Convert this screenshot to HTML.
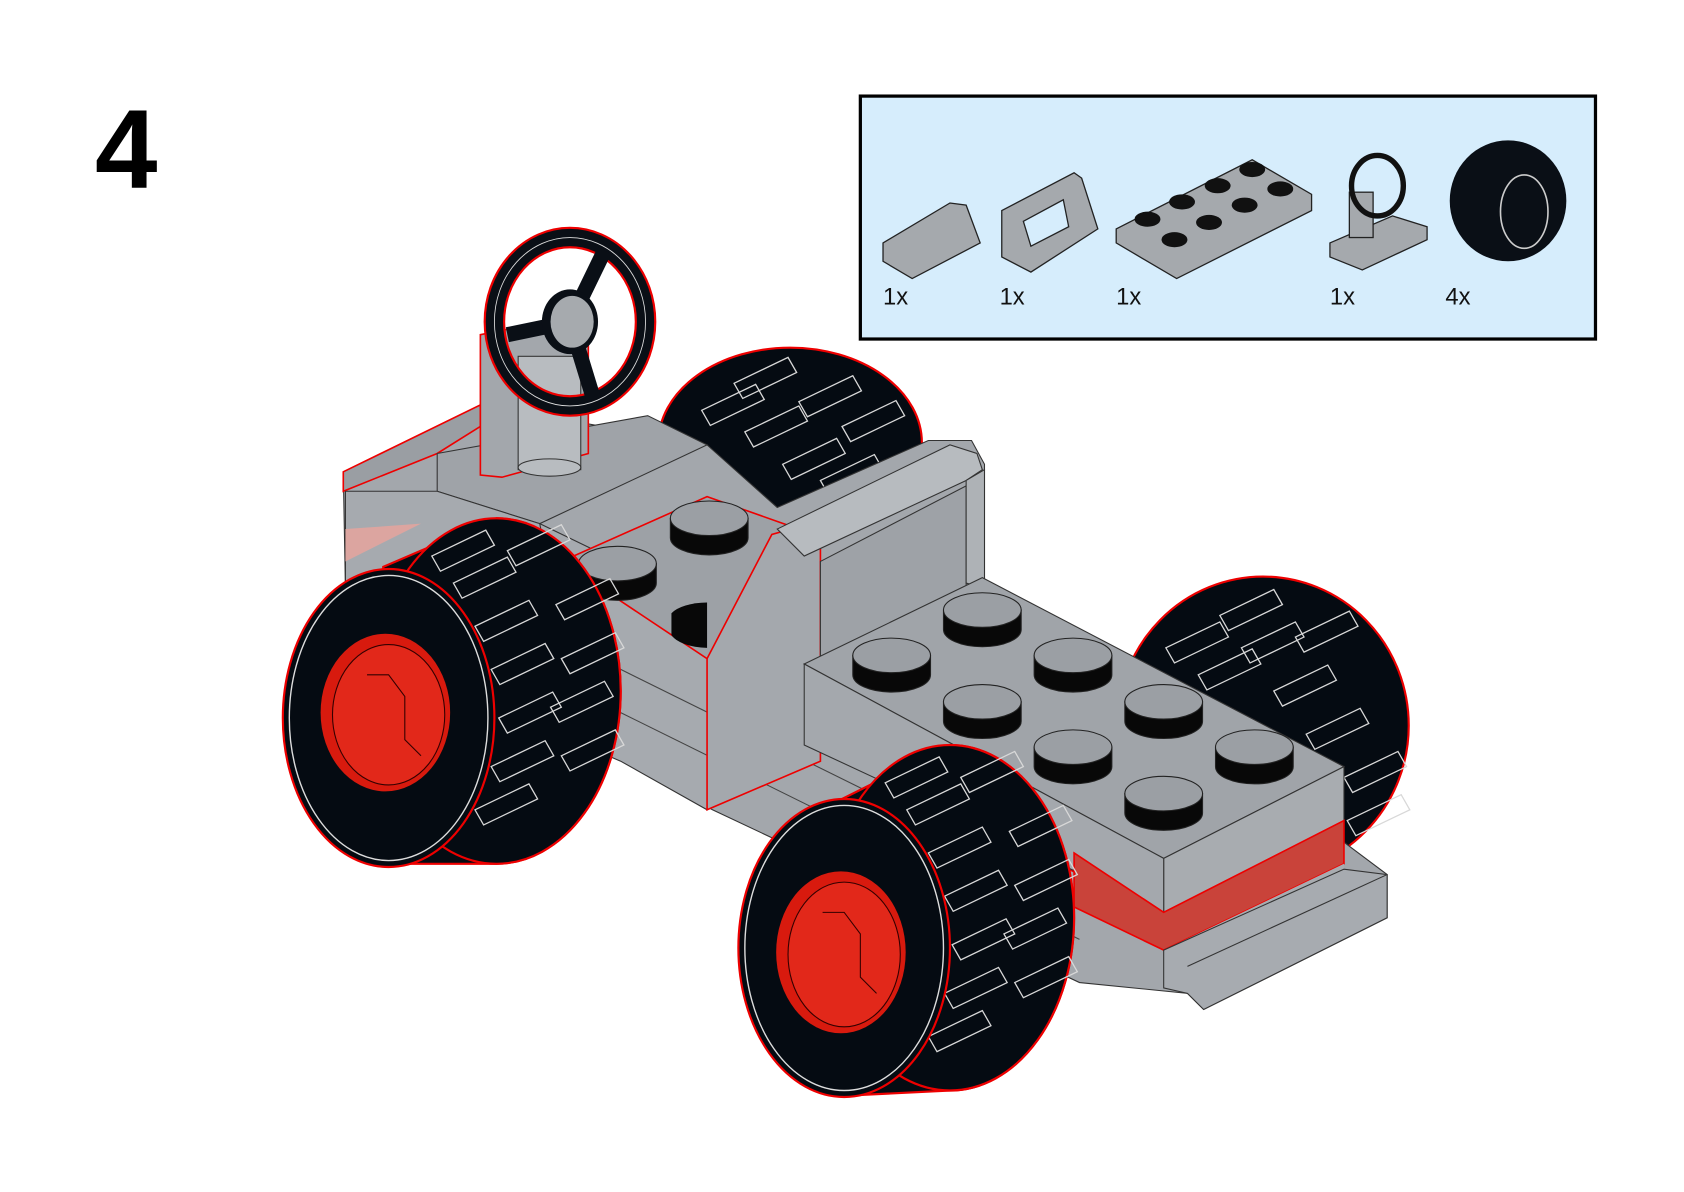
<!DOCTYPE html>
<html><head><meta charset="utf-8"><style>
html,body{margin:0;padding:0;background:#fff;width:1684px;height:1192px;overflow:hidden}
svg{display:block}
</style></head><body>
<svg width="1684" height="1192" viewBox="0 0 1560 1104" preserveAspectRatio="none" xmlns="http://www.w3.org/2000/svg">
<defs>
<g id="tread" stroke="#d8d8d8" stroke-width="1.2" fill="none">
<path d="M0,0 l50,-24 l8,14 l-50,24 z"/>
</g>
</defs>
<rect width="1560" height="1104" fill="#fff"/>
<text x="88" y="174" font-family="Liberation Sans, sans-serif" font-weight="bold" font-size="104">4</text>

<!-- parts box -->
<rect x="797" y="89" width="681" height="225" fill="#d6edfc" stroke="#000" stroke-width="3"/>
<g font-family="Liberation Sans, sans-serif" font-size="22" fill="#111">
<text x="818" y="282">1x</text><text x="926" y="282">1x</text><text x="1034" y="282">1x</text><text x="1232" y="282">1x</text><text x="1339" y="282">4x</text>
</g>
<g stroke="#222" stroke-width="1.2" fill="#a5a9ad">
<polygon points="818,225 880,188 895,190 908,225 845,258 818,242"/>
<polygon points="928,195 995,160 1002,165 1017,212 955,252 928,238"/>
<polygon points="948,205 985,185 990,210 955,228" fill="#d6edfc"/>
<polygon points="1034,212 1160,148 1215,180 1215,195 1090,258 1034,225"/>
<polygon points="1232,225 1290,200 1322,210 1322,222 1262,250 1232,238"/>
<rect x="1250" y="178" width="22" height="42"/>
</g>
<g fill="#111"><ellipse cx="1063" cy="203" rx="12" ry="7"/><ellipse cx="1095" cy="187" rx="12" ry="7"/><ellipse cx="1128" cy="172" rx="12" ry="7"/><ellipse cx="1160" cy="157" rx="12" ry="7"/><ellipse cx="1088" cy="222" rx="12" ry="7"/><ellipse cx="1120" cy="206" rx="12" ry="7"/><ellipse cx="1153" cy="190" rx="12" ry="7"/><ellipse cx="1186" cy="175" rx="12" ry="7"/></g>
<ellipse cx="1276" cy="172" rx="24" ry="28" fill="none" stroke="#111" stroke-width="5"/>
<ellipse cx="1397" cy="186" rx="54" ry="56" fill="#0a0f16"/>
<ellipse cx="1412" cy="196" rx="22" ry="34" fill="none" stroke="#ccc" stroke-width="1.5"/>

<!-- back right wheel -->
<ellipse cx="732" cy="410" rx="122" ry="88" fill="#050b12" stroke="#e00" stroke-width="2"/>
<!-- front right wheel -->
<ellipse cx="1170" cy="672" rx="135" ry="138" fill="#050b12" stroke="#e00" stroke-width="2"/>
<g>
<use href="#tread" x="650" y="380"/><use href="#tread" x="690" y="400"/><use href="#tread" x="725" y="430"/><use href="#tread" x="760" y="445"/><use href="#tread" x="680" y="355"/><use href="#tread" x="740" y="372"/><use href="#tread" x="780" y="395"/>
<use href="#tread" x="1080" y="600"/><use href="#tread" x="1110" y="625"/><use href="#tread" x="1150" y="600"/><use href="#tread" x="1180" y="640"/><use href="#tread" x="1210" y="680"/><use href="#tread" x="1245" y="720"/><use href="#tread" x="1248" y="760"/><use href="#tread" x="1130" y="570"/><use href="#tread" x="1200" y="590"/>
</g>

<!-- body silhouette -->
<polygon points="318,437 445,375 655,412 720,470 860,408 900,408 912,430 912,540 1245,710 1245,780 1285,810 1285,850 1115,935 1100,920 1000,910 660,750 575,700 320,545" fill="#a3a7ac" stroke="#333" stroke-width="1"/>
<polygon points="318,437 445,375 445,395 405,420 318,455" fill="#9a9ea3" stroke="#e00" stroke-width="1.5"/>
<polygon points="405,420 600,385 655,412 500,485 405,455" fill="#9fa3a8" stroke="#333" stroke-width="1"/>
<polygon points="320,455 405,455 500,485 520,520 320,540" fill="#a6aaaf" stroke="#333" stroke-width="1"/>
<polygon points="320,490 390,485 320,520" fill="#dca5a0"/>
<polygon points="500,485 655,560 655,750 575,705 540,690" fill="#a6aaaf" stroke="#333" stroke-width="1"/>
<line x1="575" y1="620" x2="1000" y2="830" stroke="#444" stroke-width="1"/>
<line x1="575" y1="660" x2="1000" y2="870" stroke="#444" stroke-width="1"/>
<polyline points="655,640 1000,810" stroke="#e00" stroke-width="1.5" fill="none"/>
<polygon points="520,520 655,460 740,490 655,610" fill="#9da1a6" stroke="#e00" stroke-width="1.5"/>
<!-- seat -->
<polygon points="655,610 715,495 740,488 760,505 760,705 655,750" fill="#a4a8ad" stroke="#e00" stroke-width="1.5"/>
<polygon points="720,490 880,412 905,420 910,435 895,445 745,515" fill="#b7bbbf" stroke="#333" stroke-width="1"/>
<polygon points="760,520 895,450 895,545 760,610" fill="#9ea2a7" stroke="#333" stroke-width="1"/>
<polygon points="895,445 912,435 912,545 895,540" fill="#aeb2b6" stroke="#333" stroke-width="1"/>
<!-- front plate -->
<polygon points="745,615 910,535 1245,710 1078,795" fill="#a0a4a9" stroke="#333" stroke-width="1"/>
<polygon points="1078,795 1245,710 1245,760 1078,845" fill="#a8acb0" stroke="#333" stroke-width="1"/>
<polygon points="745,615 1078,795 1078,845 745,690" fill="#a4a8ad" stroke="#333" stroke-width="1"/>
<polygon points="995,790 1078,845 1245,760 1245,800 1078,880 995,840" fill="#c9433a" stroke="#e00" stroke-width="1.5"/>
<polygon points="1078,880 1245,800 1245,810 1078,892" fill="#a8acb0"/>
<polygon points="1078,880 1245,805 1285,810 1285,850 1115,935 1100,920 1078,915" fill="#a7abb0" stroke="#333" stroke-width="1"/>
<line x1="1100" y1="895" x2="1285" y2="810" stroke="#333"/>

<!-- studs -->
<g stroke="#222" stroke-width="1">
<g transform="translate(572,522)"><path d="M-36,0 v18 a36,16 0 0 0 72,0 v-18z" fill="#080808"/><ellipse rx="36" ry="16" fill="#9b9fa4"/></g>
<g transform="translate(657,480)"><path d="M-36,0 v18 a36,16 0 0 0 72,0 v-18z" fill="#080808"/><ellipse rx="36" ry="16" fill="#9b9fa4"/></g>
<g transform="translate(910,565)"><path d="M-36,0 v18 a36,16 0 0 0 72,0 v-18z" fill="#080808"/><ellipse rx="36" ry="16" fill="#9b9fa4"/></g>
<g transform="translate(826,607)"><path d="M-36,0 v18 a36,16 0 0 0 72,0 v-18z" fill="#080808"/><ellipse rx="36" ry="16" fill="#9b9fa4"/></g>
<g transform="translate(994,607)"><path d="M-36,0 v18 a36,16 0 0 0 72,0 v-18z" fill="#080808"/><ellipse rx="36" ry="16" fill="#9b9fa4"/></g>
<g transform="translate(910,650)"><path d="M-36,0 v18 a36,16 0 0 0 72,0 v-18z" fill="#080808"/><ellipse rx="36" ry="16" fill="#9b9fa4"/></g>
<g transform="translate(1078,650)"><path d="M-36,0 v18 a36,16 0 0 0 72,0 v-18z" fill="#080808"/><ellipse rx="36" ry="16" fill="#9b9fa4"/></g>
<g transform="translate(994,692)"><path d="M-36,0 v18 a36,16 0 0 0 72,0 v-18z" fill="#080808"/><ellipse rx="36" ry="16" fill="#9b9fa4"/></g>
<g transform="translate(1162,692)"><path d="M-36,0 v18 a36,16 0 0 0 72,0 v-18z" fill="#080808"/><ellipse rx="36" ry="16" fill="#9b9fa4"/></g>
<g transform="translate(1078,735)"><path d="M-36,0 v18 a36,16 0 0 0 72,0 v-18z" fill="#080808"/><ellipse rx="36" ry="16" fill="#9b9fa4"/></g>
</g>
<path d="M622,568 a36,16 0 0 1 33,-10 L655,600 a36,16 0 0 1 -33,-12 z" fill="#080808"/>

<!-- steering column -->
<polygon points="445,310 545,290 545,420 465,442 445,440" fill="#a3a7ac" stroke="#e00" stroke-width="1.5"/>
<rect x="480" y="330" width="58" height="105" fill="#b8bcc0" stroke="#333"/>
<ellipse cx="509" cy="433" rx="29" ry="8" fill="#b8bcc0" stroke="#333"/>
<ellipse cx="528" cy="298" rx="70" ry="78" fill="none" stroke="#e00" stroke-width="20"/>
<ellipse cx="528" cy="298" rx="70" ry="78" fill="none" stroke="#0a0f16" stroke-width="16"/>
<ellipse cx="528" cy="298" rx="70" ry="78" fill="none" stroke="#ddd" stroke-width="0.8"/>
<g stroke="#0a0f16" stroke-width="14"><line x1="528" y1="298" x2="470" y2="310"/><line x1="528" y1="298" x2="560" y2="232"/><line x1="528" y1="298" x2="550" y2="370"/></g>
<ellipse cx="528" cy="298" rx="26" ry="30" fill="#0a0f16"/>
<ellipse cx="530" cy="298" rx="20" ry="24" fill="#a6aaae"/>

<!-- back left wheel -->
<g>
<path d="M355,525 L460,480 A115,160 0 0 1 460,800 L355,800 Z" fill="#050b12" stroke="#e00" stroke-width="2"/>
<ellipse cx="460" cy="640" rx="115" ry="160" fill="#050b12" stroke="#e00" stroke-width="2"/>
<use href="#tread" x="420" y="540"/><use href="#tread" x="440" y="580"/><use href="#tread" x="455" y="620"/><use href="#tread" x="462" y="665"/><use href="#tread" x="455" y="710"/><use href="#tread" x="440" y="750"/><use href="#tread" x="515" y="560"/><use href="#tread" x="520" y="610"/><use href="#tread" x="520" y="700"/><use href="#tread" x="400" y="515"/><use href="#tread" x="470" y="510"/><use href="#tread" x="510" y="655"/>
<ellipse cx="360" cy="665" rx="98" ry="138" fill="#050b12" stroke="#e00" stroke-width="2"/>
<ellipse cx="360" cy="665" rx="92" ry="132" fill="none" stroke="#ddd" stroke-width="1.3"/>
<ellipse cx="357" cy="660" rx="60" ry="73" fill="#d81a0e"/>
<ellipse cx="360" cy="662" rx="52" ry="65" fill="#e2281a" stroke="#300" stroke-width="1"/>
<path d="M340,625 h20 l15,20 v40 l15,15" fill="none" stroke="#300" stroke-width="1"/>
</g>

<!-- front left wheel -->
<g>
<path d="M780,740 L880,690 A115,160 0 0 1 880,1010 L780,1015 Z" fill="#050b12" stroke="#e00" stroke-width="2"/>
<ellipse cx="880" cy="850" rx="115" ry="160" fill="#050b12" stroke="#e00" stroke-width="2"/>
<use href="#tread" x="840" y="750"/><use href="#tread" x="860" y="790"/><use href="#tread" x="875" y="830"/><use href="#tread" x="882" y="875"/><use href="#tread" x="875" y="920"/><use href="#tread" x="860" y="960"/><use href="#tread" x="935" y="770"/><use href="#tread" x="940" y="820"/><use href="#tread" x="940" y="910"/><use href="#tread" x="820" y="725"/><use href="#tread" x="890" y="720"/><use href="#tread" x="930" y="865"/>
<ellipse cx="782" cy="878" rx="98" ry="138" fill="#050b12" stroke="#e00" stroke-width="2"/>
<ellipse cx="782" cy="878" rx="92" ry="132" fill="none" stroke="#ddd" stroke-width="1.3"/>
<ellipse cx="779" cy="882" rx="60" ry="75" fill="#d81a0e"/>
<ellipse cx="782" cy="884" rx="52" ry="67" fill="#e2281a" stroke="#300" stroke-width="1"/>
<path d="M762,845 h20 l15,20 v40 l15,15" fill="none" stroke="#300" stroke-width="1"/>
</g>
</svg>
</body></html>
